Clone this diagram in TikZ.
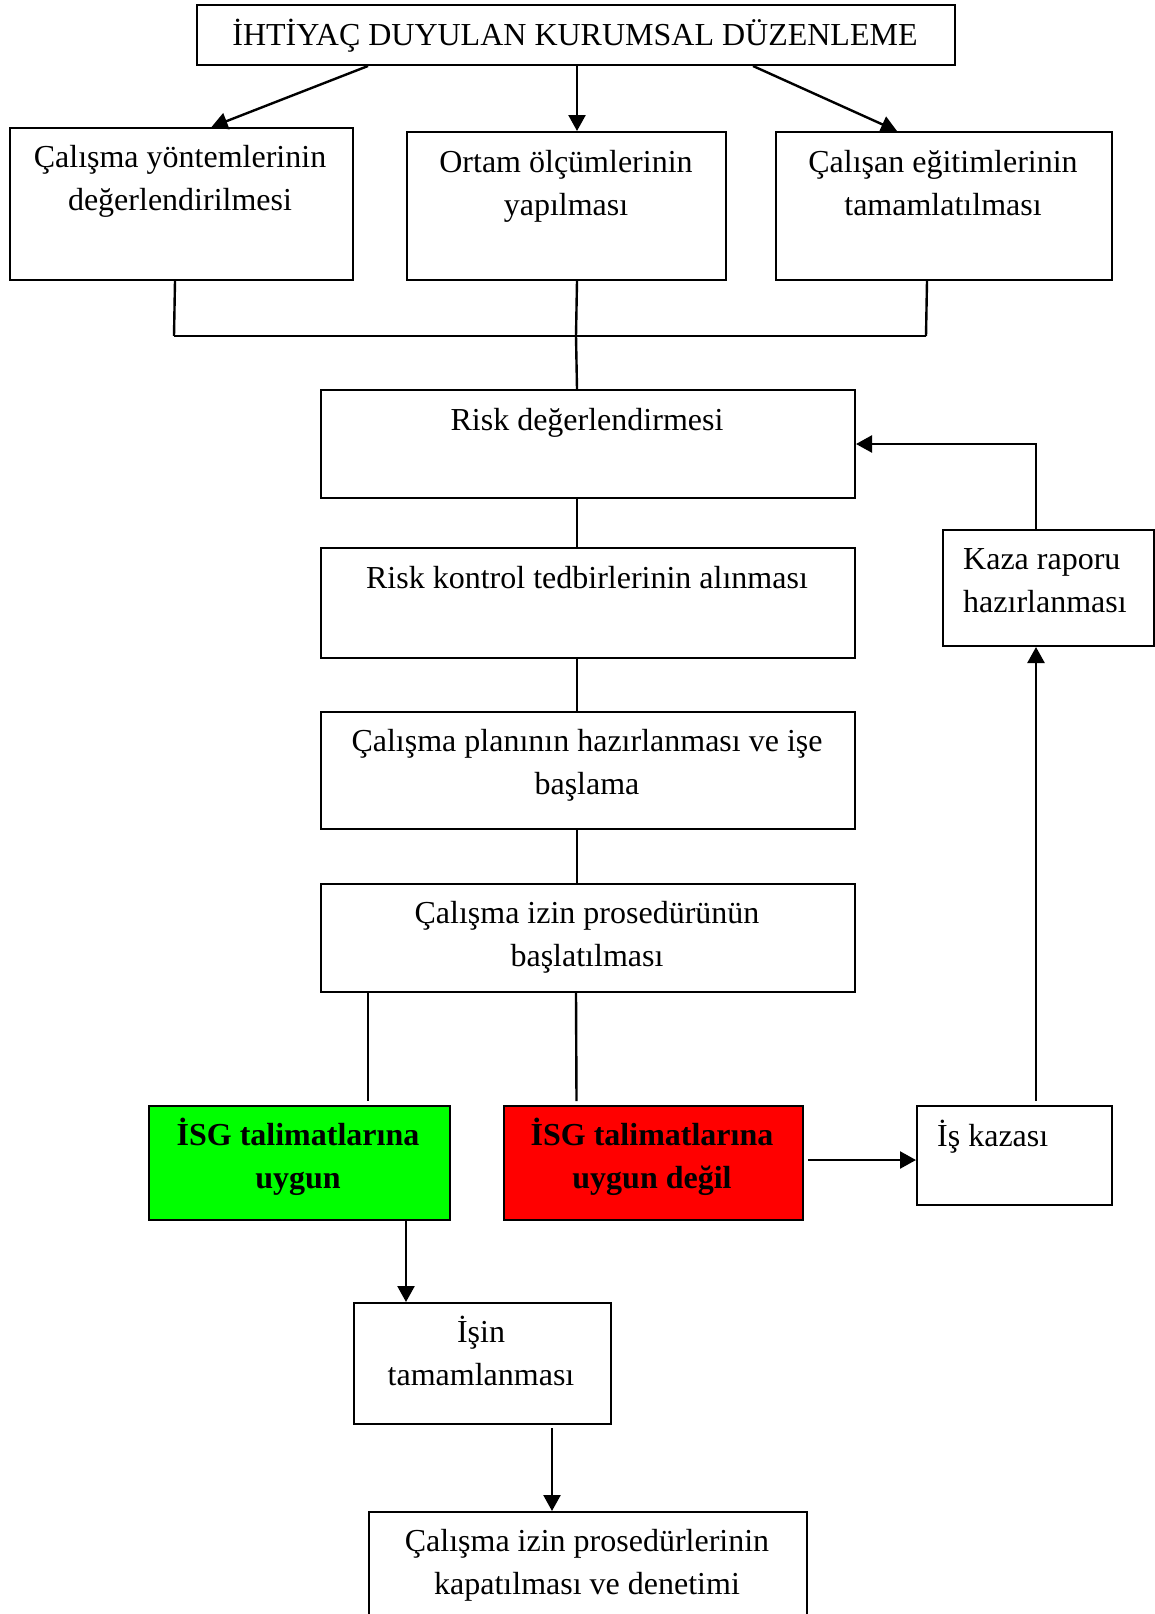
\documentclass[tikz,border=0pt]{standalone}
\usepackage{fontspec}
\setmainfont{Liberation Serif}
\usetikzlibrary{arrows.meta}
\begin{document}
\begin{tikzpicture}[x=1pt,y=-1pt,
  box/.style={draw,line width=2pt,inner sep=0pt,anchor=north west},
  txt/.style={inner sep=0pt,align=center,font=\fontsize{32}{43}\selectfont},
  conn/.style={line width=2.4pt},
  arr/.style={line width=2.4pt,-{Triangle[width=17pt,length=16pt]}}]
\useasboundingbox (0,0) rectangle (1155,1614);
% boxes
\node[box,minimum width=758pt,minimum height=60pt] (top) at (196,4) {};
\node[box,minimum width=343pt,minimum height=152pt] (b1) at (9,127) {};
\node[box,minimum width=319pt,minimum height=148pt] (b2) at (406,131) {};
\node[box,minimum width=336pt,minimum height=148pt] (b3) at (775,131) {};
\node[box,minimum width=534pt,minimum height=108pt] (risk) at (320,389) {};
\node[box,minimum width=534pt,minimum height=110pt] (kontrol) at (320,547) {};
\node[box,minimum width=534pt,minimum height=117pt] (plan) at (320,711) {};
\node[box,minimum width=534pt,minimum height=108pt] (izin) at (320,883) {};
\node[box,fill={rgb,255:red,0;green,255;blue,0},minimum width=301pt,minimum height=114pt] (green) at (148,1105) {};
\node[box,fill={rgb,255:red,255;green,0;blue,0},minimum width=299pt,minimum height=114pt] (red) at (503,1105) {};
\node[box,minimum width=195pt,minimum height=99pt] (kaza) at (916,1105) {};
\node[box,minimum width=211pt,minimum height=116pt] (rapor) at (942,529) {};
\node[box,minimum width=257pt,minimum height=121pt] (isin) at (353,1302) {};
\node[box,minimum width=438pt,minimum height=140pt] (son) at (368,1511) {};
% texts
\node[txt] (ttop) at (575,36) {İHTİYAÇ DUYULAN KURUMSAL DÜZENLEME};
\node[txt] (tb1) at (180,181) {Çalışma yöntemlerinin\\değerlendirilmesi};
\node[txt] (tb2) at (566,186) {Ortam ölçümlerinin\\yapılması};
\node[txt] (tb3) at (943,183) {Çalışan eğitimlerinin\\tamamlatılması};
\node[txt] (trisk) at (587,423) {Risk değerlendirmesi};
\node[txt] (tkontrol) at (587,578) {Risk kontrol tedbirlerinin alınması};
\node[txt] (tplan) at (587,765) {Çalışma planının hazırlanması ve işe\\başlama};
\node[txt] (tizin) at (587,937) {Çalışma izin prosedürünün\\başlatılması};
\node[txt,font=\fontsize{32}{43}\selectfont\bfseries] (tgreen) at (298,1157) {İSG talimatlarına\\uygun};
\node[txt,font=\fontsize{32}{43}\selectfont\bfseries] (tred) at (652,1157) {İSG talimatlarına\\uygun değil};
\node[txt,anchor=west] (tkaza) at (937,1137) {İş kazası};
\node[txt,anchor=west,align=left] (trapor) at (963,581) {Kaza raporu\\hazırlanması};
\node[txt] (tisin) at (481,1351) {İşin\\tamamlanması};
\node[txt] (tson) at (587,1565) {Çalışma izin prosedürlerinin\\kapatılması ve denetimi};
% connectors
\draw[arr] ([xshift=-208pt]top.south) -- ([xshift=30pt]b1.north);
\draw[arr] ([xshift=1pt]top.south) -- ([xshift=10.5pt]b2.north);
\draw[arr] ([xshift=177pt]top.south) -- ([xshift=-47pt]b3.north);
\coordinate (busL) at (174,336);
\coordinate (busM) at (576,336);
\coordinate (busR) at (926,336);
\draw[conn] ([xshift=-6.5pt]b1.south) -- (busL);
\draw[conn] ([xshift=10.5pt]b2.south) -- (busM);
\draw[conn] ([xshift=-17pt]b3.south) -- (busR);
\draw[conn] (busL) -- (busR);
\draw[conn] (busM) -- ([xshift=-11pt]risk.north);
\draw[conn] ([xshift=-11pt]risk.south) -- ([xshift=-11pt]kontrol.north);
\draw[conn] ([xshift=-11pt]kontrol.south) -- ([xshift=-11pt]plan.north);
\draw[conn] ([xshift=-11pt]plan.south) -- ([xshift=-11pt]izin.north);
\draw[conn] ([xshift=-220pt]izin.south) -- ([xshift=68.5pt,yshift=4pt]green.north);
\draw[conn] ([xshift=-12pt]izin.south) -- ([xshift=-77pt,yshift=4pt]red.north);
\draw[arr] ([xshift=4pt,yshift=3pt]red.east) -- ([yshift=3pt]red.east -| kaza.west);
\draw[arr] ([xshift=21.5pt,yshift=4pt]kaza.north) -- ([xshift=-12.5pt]rapor.south);
\draw[arr] ([xshift=-12.5pt]rapor.north) |- (risk.east);
\draw[arr] ([xshift=106.5pt]green.south) -- ([xshift=-76.5pt]isin.north);
\draw[arr] ([xshift=69.5pt,yshift=-3pt]isin.south) -- ([xshift=-36pt]son.north);
\end{tikzpicture}
\end{document}
